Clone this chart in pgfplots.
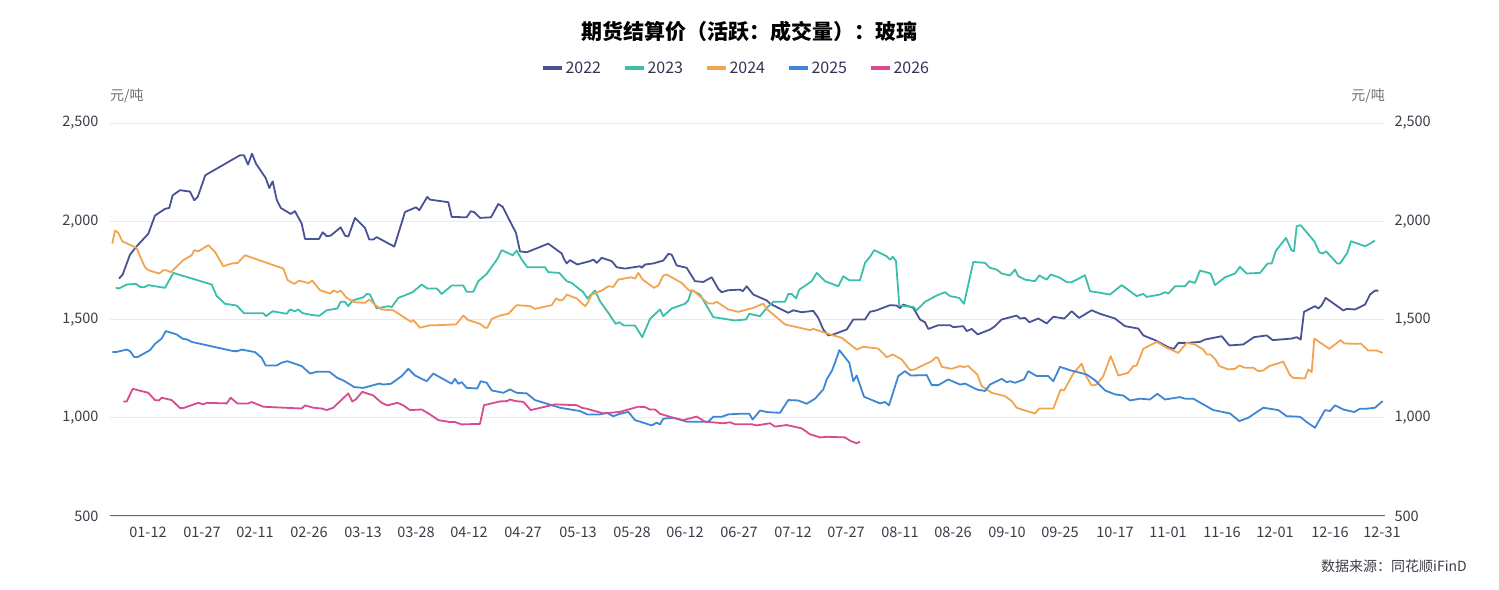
\documentclass[border=0pt]{standalone}
\usepackage{fontspec}
\setmainfont{Noto Sans CJK SC}
\usepackage{pgfplots}
\usepackage{pgfplotstable}
\pgfplotsset{compat=1.18}
\definecolor{c22}{RGB}{74,82,150}
\definecolor{c23}{RGB}{59,190,170}
\definecolor{c24}{RGB}{243,164,80}
\definecolor{c25}{RGB}{62,135,212}
\definecolor{c26}{RGB}{214,76,142}
\definecolor{gridc}{RGB}{234,234,242}
\definecolor{axc}{RGB}{96,102,140}
\definecolor{txt}{RGB}{60,60,72}
\definecolor{leg}{RGB}{50,52,82}
\definecolor{unit}{RGB}{110,110,110}

\pgfplotstableread{
x y
9 1708
12.7 1729
20 1830
26.7 1873
38.3 1936
45 2029
55 2063
59.3 2068
62.7 2132
70 2158
80 2151
84.3 2107
87.7 2124
95.3 2234
130 2336
134 2336
138 2288
142 2344
146 2293
155.7 2220
159.3 2169
162.7 2203
166.7 2110
170.7 2068
180.7 2037
185 2051
191.7 1988
195 1910
209 1910
212.7 1944
216.7 1924
220.7 1927
230.7 1969
235 1927
238.3 1922
245 2017
255 1966
259.3 1907
263.3 1907
266.7 1919
284.3 1871
295 2047
306 2071
309.3 2056
317.3 2124
320 2110
338.3 2097
341.7 2022
356.7 2020
360.7 2051
364 2047
370 2017
381 2020
388.3 2088
392.7 2073
400 2000
406 1941
410 1847
416.7 1842
438.3 1886
451.7 1836
454 1808
456.7 1785
460 1802
467.3 1780
480 1797
483.3 1805
486.7 1788
491.7 1814
501.7 1797
506.7 1766
515 1759
530 1771
531.7 1763
535 1780
543.3 1785
553.3 1800
558.3 1834
561.7 1830
566.7 1775
576.7 1763
585 1695
593.3 1691
601.7 1715
608.3 1656
611.7 1639
618.3 1649
630 1652
632.7 1644
636.7 1669
643.3 1627
656.7 1597
660 1581
668.3 1559
678.3 1534
683.3 1547
691.7 1537
703.3 1544
708.3 1508
713.3 1449
718.3 1419
723.3 1424
736.7 1449
743.3 1500
755 1500
760 1539
766.7 1547
780 1573
786.7 1571
790 1558
793.3 1576
803.3 1559
810 1500
815 1486
818.3 1452
828.3 1471
840 1471
843.3 1461
853.3 1466
856.7 1441
861.7 1452
867.7 1424
880 1449
885 1466
891.7 1500
906.7 1520
910 1505
915 1508
919.3 1486
928.3 1505
936.7 1480
943.3 1514
954.3 1505
961.7 1542
969 1508
981.7 1547
990 1529
1005 1505
1015 1466
1028.3 1454
1033.3 1419
1045 1395
1059.3 1356
1064 1351
1068.3 1381
1076.7 1381
1090 1386
1095 1398
1111.7 1415
1119.3 1368
1133.3 1373
1144 1410
1156.7 1419
1162.7 1395
1181.7 1403
1186.7 1410
1190.7 1398
1194 1539
1205 1568
1208.3 1556
1211.7 1573
1215.7 1610
1233.3 1546
1236.7 1554
1245 1551
1255 1576
1260 1627
1265 1647
1268.3 1647
}\tA

\pgfplotstableread{
x y
5.7 1661
9 1658
16.7 1678
26 1681
30 1666
34 1664
38.3 1675
55 1661
63.3 1737
101.7 1678
106.7 1619
110 1605
115 1580
126.7 1571
134 1532
153.3 1532
156 1517
162.7 1542
176.7 1529
180 1551
185 1542
188.3 1551
192.7 1532
203.3 1522
209.3 1519
216.7 1547
227.3 1556
230.7 1590
235 1590
238.3 1568
242.7 1597
253.3 1613
256.7 1630
260 1627
266.7 1556
278.3 1568
281.7 1563
288.3 1610
302.7 1639
311.7 1678
317.3 1658
326.7 1658
331.7 1630
341.7 1673
353.3 1673
356.7 1641
363.3 1641
368.3 1695
376.7 1732
387.3 1808
391.7 1853
402.7 1827
406.7 1851
411.7 1805
417.3 1766
435 1766
438.3 1741
449.3 1737
456.7 1695
461.7 1686
473.3 1639
477.3 1607
485 1647
490 1593
498.3 1534
505.7 1478
509.3 1486
514 1469
525 1469
532.3 1410
540 1503
550 1551
553.3 1517
561.7 1556
575 1580
578.3 1597
581.7 1649
590 1627
603.3 1512
625 1495
636 1500
639.3 1529
650 1517
656.7 1559
663.3 1590
675 1590
678.3 1630
681.7 1630
686 1607
689.3 1652
701.7 1695
706.7 1737
715 1695
728.3 1669
733.3 1720
739.3 1700
750 1700
755 1788
760 1819
764.3 1853
776.7 1822
780 1805
782.7 1819
786 1797
789.3 1571
803.3 1564
806.7 1547
815 1590
826.7 1622
835 1639
840 1619
849.3 1610
854 1580
863.3 1793
875 1788
880 1763
886.7 1754
891.7 1734
900 1724
905 1754
908.3 1720
915 1703
925 1695
929.3 1724
936.7 1703
940.7 1729
950 1712
956.7 1690
961.7 1690
975 1725
980 1644
990 1636
1000 1627
1011.7 1675
1026.7 1619
1033.3 1630
1036.7 1615
1050 1627
1055 1639
1058.3 1632
1065 1669
1075 1669
1079.3 1695
1085 1686
1090 1749
1100.7 1734
1105 1675
1115 1715
1125 1734
1130 1768
1136.7 1734
1150 1737
1157.7 1785
1161.7 1785
1166 1851
1176 1915
1181.7 1851
1184 1847
1186.7 1975
1190.7 1980
1204.3 1898
1209.3 1842
1212.7 1836
1216 1847
1227.3 1785
1230 1785
1237.3 1839
1241 1898
1255 1873
1260 1886
1265 1902
}\tB

\pgfplotstableread{
x y
2.3 1886
5 1953
8.3 1941
12.3 1898
26.7 1864
30 1822
35 1766
38.3 1751
49.3 1734
53.3 1751
56 1751
61 1741
73.3 1802
81.7 1827
84.3 1853
88.3 1847
98.3 1878
105 1844
113.3 1771
121.7 1785
127.7 1788
135 1827
173.3 1759
177.7 1700
184.3 1681
189 1698
198.3 1685
202.3 1698
210 1649
220 1632
223.3 1647
227.3 1639
230.7 1647
236.7 1610
244.3 1588
255 1585
259.3 1602
266 1571
271.7 1551
283.3 1547
301 1488
303.3 1497
310 1458
320 1471
326.7 1471
346 1475
353.3 1520
358.3 1497
370 1478
375 1458
377.3 1458
381.7 1503
390 1520
398.3 1529
406.7 1573
420 1568
425 1554
441.7 1573
446 1607
450 1597
453.3 1602
456.7 1627
466.7 1607
475 1568
477.3 1581
481.7 1627
491.7 1647
498.3 1669
503.3 1666
508.3 1703
521 1715
525 1708
528.3 1737
532.7 1703
544 1661
548.3 1673
553.3 1724
556.7 1729
571.7 1686
579.3 1647
583.3 1647
598.3 1581
603.3 1581
606.7 1590
618.3 1551
628.3 1539
643.3 1559
653.3 1581
656.7 1554
675 1475
680 1469
700 1446
703.3 1452
723.3 1419
731.7 1407
746.7 1347
753.3 1361
768.3 1352
776.7 1308
782.7 1322
791.7 1297
800 1242
805 1246
809.3 1258
821.7 1288
826 1308
828.3 1302
831.7 1259
841.7 1249
850 1263
853.3 1258
858.3 1263
867.3 1220
871.7 1161
881.7 1127
895 1110
901.7 1085
906.7 1051
915 1037
925 1022
929.3 1047
943.3 1047
950.7 1144
954 1139
963.3 1225
971.7 1275
976 1212
981.7 1164
986.7 1169
993.3 1212
1000.7 1314
1008.3 1215
1018.3 1229
1023.3 1263
1026.7 1266
1033.3 1351
1046.7 1386
1056.7 1356
1068.3 1330
1076.7 1381
1085 1373
1093.3 1347
1096.7 1322
1100.7 1322
1105 1300
1109.3 1263
1118.3 1246
1125 1249
1129.3 1266
1135 1254
1143.3 1254
1148.3 1237
1153.3 1241
1159.3 1263
1173.3 1285
1180 1217
1183.3 1203
1195 1200
1198.3 1246
1201.7 1232
1204.3 1403
1219.3 1351
1225 1373
1230.7 1395
1234.3 1378
1246.7 1376
1250.7 1378
1258.3 1342
1266.7 1342
1272.7 1330
}\tC

\pgfplotstableread{
x y
2.3 1335
6.7 1335
16.7 1347
20 1339
24 1310
27.3 1308
40 1344
45 1376
51.7 1403
55.7 1441
66.7 1424
72.7 1402
77.3 1398
81.7 1386
123.3 1339
127.3 1339
131.7 1347
145 1334
151.7 1305
155.7 1266
166.7 1266
171.7 1280
177.3 1288
191.7 1263
200 1225
206.7 1234
219.3 1234
227.3 1203
233.3 1190
244.3 1156
253.3 1152
269.3 1174
273.3 1169
281 1173
291.7 1212
298.3 1249
305 1215
316.7 1186
323.3 1225
341.7 1173
345 1198
348.3 1173
351.7 1181
356.7 1152
367.3 1149
370.7 1186
376.7 1178
381.7 1139
393.3 1127
400 1144
406.7 1127
416.7 1124
425 1090
450 1051
470 1034
477.3 1017
490 1017
496.7 1025
503.3 1008
510 1020
518.3 1030
525 988
541.7 961
546.7 975
550 966
553.3 995
563.3 1000
576.7 980
598.3 980
603.3 1005
611.7 1005
618.3 1017
628.3 1020
639.3 1020
642.7 991
650 1037
656.7 1029
670 1025
678.3 1090
688.3 1088
696.7 1071
705 1097
713.3 1144
716.7 1195
721.7 1237
725 1280
729.3 1344
739.3 1280
743.3 1186
746.7 1215
754 1107
766.7 1080
770 1073
775 1080
779 1063
788.3 1212
795 1237
800.7 1215
816.7 1217
821.7 1166
828.3 1166
838.3 1195
850 1169
855 1174
866.7 1144
875 1136
880 1169
891.7 1198
896.7 1181
900 1186
905 1178
914 1195
918.3 1237
926.7 1212
938.3 1212
943.3 1186
950 1259
960 1242
976.7 1220
985 1191
995 1139
1005 1119
1013.3 1113
1020 1088
1030 1097
1040 1093
1047.3 1122
1055 1093
1070 1105
1075 1097
1083.3 1097
1103.3 1039
1120 1022
1129.3 983
1138.3 1000
1153.3 1051
1168.3 1039
1176.7 1008
1190 1005
1196.7 978
1205 949
1215 1039
1220 1034
1225 1063
1233.3 1042
1244.3 1029
1250 1046
1256.7 1046
1265 1051
1272.7 1085
}\tD

\pgfplotstableread{
x y
13.3 1083
16.7 1083
22.7 1147
38.3 1127
45 1090
49 1088
51.7 1102
61.7 1090
70 1049
73.3 1049
88.3 1076
93.3 1068
96.7 1076
116.7 1073
120.7 1102
127.3 1073
138.3 1073
141.7 1080
153.3 1056
191.7 1047
195 1063
203.3 1051
211.7 1047
216.7 1039
223.3 1051
238.3 1124
242.3 1083
245.7 1093
252.3 1132
263.3 1113
271.7 1076
277.3 1063
287.7 1076
293.3 1063
300 1039
311.7 1042
320 1017
328.3 988
340 978
345 978
351.7 966
370 969
374 1064
390 1083
397.3 1085
400 1093
405 1085
413.3 1081
420.7 1039
445 1068
466.7 1064
471.7 1051
476.7 1046
493.3 1022
500 1025
510 1030
518.3 1042
528.3 1056
535 1054
540 1042
545 1042
550 1020
563.3 1000
573.3 988
586.7 1006
595 980
613.3 972
620 977
625 967
641.7 967
646.7 961
660 972
665 955
676.7 963
691.7 946
700 916
710 900
718.3 903
735 900
740 883
746.7 870
750 878
}\tE

\begin{document}
\begin{tikzpicture}
\path[use as bounding box] (0,0) rectangle (1499bp,590bp);
\pgfplotsset{
  base/.style={
    scale only axis, width=1275bp, height=393bp,
    at={(110bp,74bp)}, anchor=south west,
    xmin=0, xmax=1275, ymin=500, ymax=2500,
    ytick={500,1000,1500,2000,2500},
    major tick length=0pt,
    tick label style={font=\fontsize{14.5bp}{17bp}\selectfont, text=txt},
    /pgf/number format/.cd, 1000 sep={,}, assume math mode=true,
  },
}
\begin{axis}[base,
  axis x line*=bottom, axis y line*=left,
  y axis line style={draw=none},
  x axis line style={draw=axc, line width=1bp, -},
  ymajorgrids, grid style={draw=gridc, line width=0.8bp},
  xtick={38,92,145,199,253,306,359,413,468,522,575,629,683,736,790,843,897,950,1005,1058,1112,1165,1220,1272},
  xticklabels={01-12,01-27,02-11,02-26,03-13,03-28,04-12,04-27,05-13,05-28,06-12,06-27,07-12,07-27,08-11,08-26,09-10,09-25,10-17,11-01,11-16,12-01,12-16,12-31},
  xticklabel style={yshift=-7bp},
  yticklabel style={xshift=-8bp},
  every axis plot/.append style={line width=1.8bp, line join=round, no marks},
  legend columns=5,
  legend style={at={(0.491,1.14)}, anchor=center, draw=none, fill=none,
    font=\fontsize{16bp}{18bp}\selectfont, text=leg,
    /tikz/every even column/.append style={column sep=20bp}},
  legend image code/.code={\draw[#1, line width=3.5bp] (0bp,0bp) -- (19bp,0bp);},
]
\addplot[c22] table {\tA}; \addlegendentry{2022}
\addplot[c23] table {\tB}; \addlegendentry{2023}
\addplot[c24] table {\tC}; \addlegendentry{2024}
\addplot[c25] table {\tD}; \addlegendentry{2025}
\addplot[c26] table {\tE}; \addlegendentry{2026}
\end{axis}
\begin{axis}[base,
  hide x axis,
  axis y line*=right,
  y axis line style={draw=none},
  yticklabel pos=right,
  yticklabel style={xshift=6bp},
]
\end{axis}
\node[anchor=center, font=\bfseries\fontsize{21bp}{24bp}\selectfont, text=black] at (749.5bp,558bp) {期货结算价（活跃：成交量）：玻璃};
\node[anchor=west, font=\fontsize{14bp}{16bp}\selectfont, text=unit, inner sep=0pt] at (110bp,494bp) {元/吨};
\node[anchor=east, font=\fontsize{14bp}{16bp}\selectfont, text=unit, inner sep=0pt] at (1385bp,494bp) {元/吨};
\node[anchor=east, font=\fontsize{14bp}{16bp}\selectfont, text=txt, inner sep=0pt] at (1467bp,24bp) {数据来源：同花顺iFinD};
\end{tikzpicture}
\end{document}
